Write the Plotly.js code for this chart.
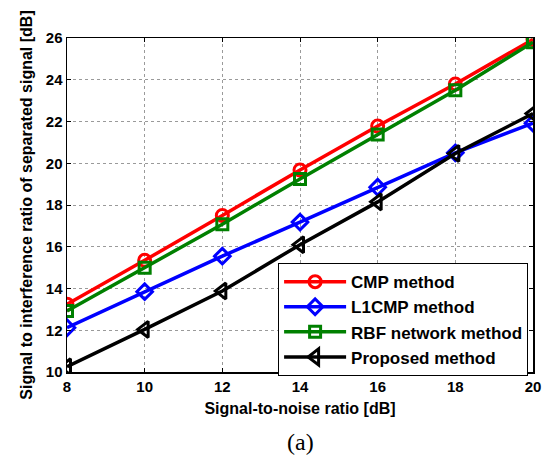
<!DOCTYPE html>
<html>
<head>
<meta charset="utf-8">
<script src="https://cdn.plot.ly/plotly-3.0.1.min.js"></script>
<style>html,body{margin:0;padding:0;background:#fff;}#chart{width:547px;height:457px;}</style>
</head>
<body>
<div id="chart"></div>
<script>
const snr = [8, 10, 12, 14, 16, 18, 20];
const cmp = [13.25, 15.35, 17.5, 19.68, 21.78, 23.8, 25.93];
const l1cmp = [12.12, 13.85, 15.55, 17.18, 18.85, 20.5, 21.92];
const rbf = [12.92, 15.0, 17.08, 19.25, 21.38, 23.5, 25.8];
const proposed = [10.25, 12.04, 13.88, 16.1, 18.15, 20.47, 22.38];
const seriesNames = ['CMP method', 'L1CMP method', 'RBF network method', 'Proposed method'];
const xTicks = [8, 10, 12, 14, 16, 18, 20];
const yTicks = [10, 12, 14, 16, 18, 20, 22, 24, 26];

const font = 'Arial, "Liberation Sans", sans-serif';
function tr(y, name, color, symbol, size) {
  return {
    x: snr, y: y, name: name, type: 'scatter', mode: 'lines+markers',
    line: {color: color, width: 3.5},
    marker: {symbol: symbol, size: size, color: color, line: {color: color, width: 3}}
  };
}
const data = [
  tr(cmp, seriesNames[0], '#ff0000', 'circle-open', 12),
  tr(l1cmp, seriesNames[1], '#0000ff', 'diamond-open', 12),
  tr(rbf, seriesNames[2], '#008000', 'square-open', 11),
  tr(proposed, seriesNames[3], '#000000', 'triangle-left-open', 14)
];
const axisCommon = {
  showline: true, linecolor: '#000', linewidth: 1.5, mirror: 'ticks',
  ticks: 'inside', ticklen: 4, tickcolor: '#000', tickwidth: 1,
  showgrid: true, gridcolor: '#9a9a9a', griddash: 'dot', gridwidth: 1,
  zeroline: false,
  tickfont: {family: font, size: 15, color: '#000', weight: 'bold'}
};
const layout = {
  width: 547, height: 457,
  margin: {l: 67, r: 14, t: 38, b: 85},
  paper_bgcolor: '#fff', plot_bgcolor: '#fff',
  font: {family: font, color: '#000'},
  xaxis: Object.assign({}, axisCommon, {
    range: [8, 20], tickvals: xTicks, ticktext: xTicks.map(String),
    title: {text: 'Signal-to-noise ratio [dB]', font: {family: font, size: 16, weight: 'bold'}, standoff: 9}
  }),
  yaxis: Object.assign({}, axisCommon, {
    range: [10, 26], tickvals: yTicks, ticktext: yTicks.map(String),
    title: {text: 'Signal to interference ratio of separated signal [dB]', font: {family: font, size: 16, weight: 'bold'}, standoff: 9}
  }),
  legend: {
    x: 0.453, y: 0.326, xanchor: 'left', yanchor: 'top',
    bgcolor: '#fff', bordercolor: '#000', borderwidth: 1,
    itemwidth: 62,
    font: {family: font, size: 17, weight: 'bold', color: '#000'}
  },
  annotations: [{
    text: '(a)', xref: 'paper', yref: 'paper', x: 0.5, y: -0.21, yanchor: 'middle',
    showarrow: false, font: {family: '"Times New Roman", "Liberation Serif", serif', size: 24, color: '#000'}
  }],
  showlegend: true
};
Plotly.newPlot('chart', data, layout, {displayModeBar: false, staticPlot: true});
</script>
</body>
</html>
